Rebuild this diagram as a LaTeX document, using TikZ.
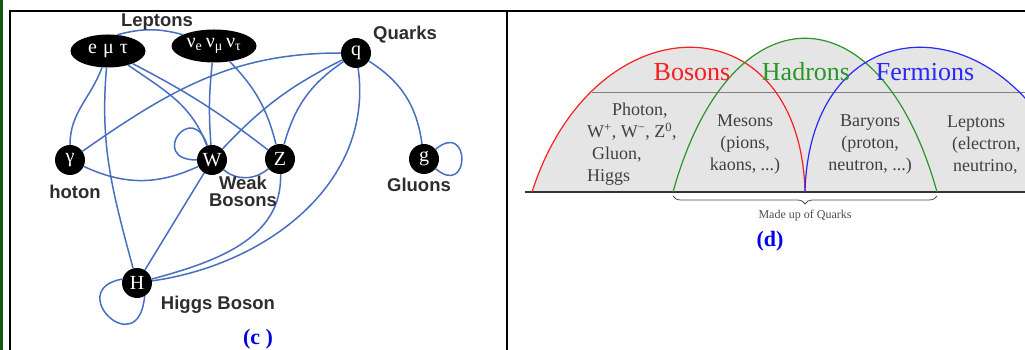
\documentclass[tikz,border=0pt]{standalone}
\usepackage{fontspec}
\setmainfont{Liberation Serif}
\setsansfont{Liberation Sans}
\usepackage{tikz}
\usetikzlibrary{shapes.geometric,decorations.pathreplacing}
\definecolor{linkblue}{RGB}{72,110,192}
\definecolor{labelgray}{RGB}{45,45,45}
\definecolor{frameGreen}{RGB}{15,90,15}
\definecolor{arcRed}{RGB}{250,30,30}
\definecolor{arcGreen}{RGB}{40,150,40}
\definecolor{arcBlue}{RGB}{40,40,250}
\definecolor{capBlue}{RGB}{0,0,235}
\tikzset{
  ptl/.style={circle, fill=black, text=white, minimum size=30pt, inner sep=0pt, font=\fontsize{20}{20}\selectfont},
  grp/.style={ellipse, fill=black, text=white, minimum height=33pt, inner sep=0pt, font=\fontsize{20}{20}\selectfont},
  lbl/.style={font=\sffamily\bfseries\fontsize{18.5}{17}\selectfont, text=labelgray, align=center, inner sep=0pt},
  link/.style={draw=linkblue, line width=1.5pt},
  tag/.style={font=\bfseries\fontsize{22}{22}\selectfont, text=capBlue, inner sep=0pt, anchor=base},
  fam/.style={font=\fontsize{26}{26}\selectfont, inner sep=0pt, anchor=base},
  cell/.style={font=\fontsize{18}{22}\selectfont, text=black!75, inner sep=0pt},
  dome/.style={line width=1.2pt}
}
\begin{document}
\begin{tikzpicture}[x=1pt, y=1pt]
  \useasboundingbox (0,0) rectangle (1025,350);
  \clip (0,0) rectangle (1025,350);
  % frame
  \fill[frameGreen] (0,0) rectangle (3,350);
  \draw[line width=2pt] (10,0) -- (10,339) -- (1025,339);
  \draw[line width=2pt] (507,0) -- (507,339);

  % (c) particle graph
  \node[grp, minimum width=75pt] (lep) at (108,299) {e\hspace{6pt}μ\hspace{6pt}τ};
  \node[grp, minimum width=85pt] (neu) at (214,304) {ν\textsubscript{e}\,ν\textsubscript{μ}\,ν\textsubscript{τ}};
  \node[ptl] (q) at (356,297) {q};
  \node[ptl] (gam) at (70,190) {γ};
  \node[ptl] (W) at (212,190) {W};
  \node[ptl] (Z) at (280,191) {Z};
  \node[ptl] (g) at (424,191) {g};
  \node[ptl] (H) at (137,67) {H};

  \draw[link] (lep.60) to[bend left=15] (neu.160);
  \draw[link] (lep) to[out=250, in=90] (gam);
  \draw[link] (lep) to[out=265, in=105] (H);
  \draw[link] (lep) to[out=-35, in=110] (W);
  \draw[link] (lep) to[bend left=5] (Z);
  \draw[link] (neu) to[bend right=5] (W);
  \draw[link] (neu) to[bend left=15] (Z);
  \draw[link] (q) to[out=180, in=35] (gam);
  \draw[link] (q) to[bend right=10] (W);
  \draw[link] (q) to[bend right=20] (Z);
  \draw[link] (q) to[bend left=25] (g);
  \draw[link] (q) to[out=-82, in=8] (H);
  \draw[link] (gam) to[out=-25, in=205] (W);
  \draw[link] (W) to[out=-40, in=220] (Z);
  \draw[link] (W) to[out=180, in=108, looseness=7] (W);
  \draw[link] (W) -- (H);
  \draw[link] (Z) to[out=-88, in=15] (H);
  \draw[link] (H.165) .. controls +(190:60) and +(-95:68) .. (H.-60);
  \draw[link] (g) to[out=40, in=-40, looseness=6] (g);

  \node[lbl] (lepT) at (157,328) {Leptons};
  \node[lbl] (qT) at (405,315) {Quarks};
  \node[lbl] (gamT) at (75,158) {hoton};
  \node[lbl] (wzT) at (243,159) {Weak\\Bosons};
  \node[lbl] (gT) at (419,165) {Gluons};
  \node[lbl] (HT) at (218,45) {Higgs Boson};
  \node[tag] (c) at (258,5) {(c )};

  % (d) families
  \fill[gray!20] (532,158) .. controls (594,351) and (800,351) .. (805,158) -- cycle;
  \fill[gray!20] (673,158) .. controls (730,363) and (880,363) .. (937,158) -- cycle;
  \fill[gray!20] (805,158) .. controls (810,351) and (1016,351) .. (1078,158) -- cycle;
  \draw[gray, line width=1pt] (592,257) -- (1025,257);
  \draw[black!80, line width=1.5pt] (525,158) -- (1025,158);
  \draw[dome, arcRed] (532,158) .. controls (594,351) and (800,351) .. (805,158);
  \draw[dome, arcGreen] (673,158) .. controls (730,363) and (880,363) .. (937,158);
  \draw[dome, arcBlue] (805,158) .. controls (810,351) and (1016,351) .. (1078,158);

  \node[fam, text=arcRed] (bos) at (692,269) {Bosons};
  \node[fam, text=arcGreen] (had) at (806,269) {Hadrons};
  \node[fam, text=arcBlue] (fer) at (925,269) {Fermions};
  \node[cell, align=left, anchor=west] (bosL) at (587,206) {\hspace*{25pt}Photon,\\W\textsuperscript{+}, W\textsuperscript{−}, Z\textsuperscript{0},\\\hspace*{5pt}Gluon,\\Higgs};
  \node[cell, align=center] (mes) at (745,205) {Mesons\\(pions,\\kaons, ...)};
  \node[cell, align=center] (bar) at (870,205) {Baryons\\(proton,\\neutron, ...)};
  \node[cell, align=left, anchor=west] (lepR) at (947,205) {Leptons\\\hspace*{5pt}(electron,\\\hspace*{6pt}neutrino,};

  \coordinate (qL) at (673,154);
  \coordinate (qR) at (937,154);
  \draw[decorate, decoration={brace, mirror, amplitude=8pt}, black!70, line width=0.8pt] (qL) -- (qR);
  \node[font=\fontsize{12}{12}\selectfont, text=black!70] (mq) at (805,134) {Made up of Quarks};
  \node[tag] (d) at (770,103) {(d)};
\end{tikzpicture}
\end{document}
